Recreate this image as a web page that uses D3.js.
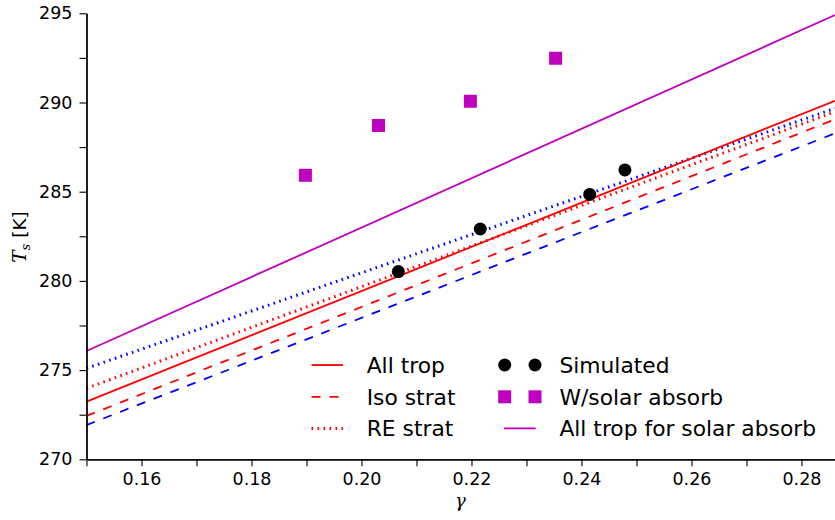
<!DOCTYPE html>
<html>
<head>
<meta charset="utf-8">
<script src="https://cdn.jsdelivr.net/npm/d3@7"></script>
<style>
  html, body { margin: 0; padding: 0; background: #fff; }
  svg { display: block; }
  text { font-family: "DejaVu Sans", sans-serif; fill: #000; }
</style>
</head>
<body>
<svg id="chart" width="835" height="520"></svg>
<script>
// ---- data ----
const xDomain = [0.15, 0.2861];
const yDomain = [270, 295];
const xMajorTicks = [0.16, 0.18, 0.20, 0.22, 0.24, 0.26, 0.28];
const xMinorTicks = [0.15, 0.17, 0.19, 0.21, 0.23, 0.25, 0.27];
const yMajorTicks = [270, 275, 280, 285, 290, 295];
const yMinorTicks = [272.5, 277.5, 282.5, 287.5, 292.5];

// theory lines: T_s at the two ends of the gamma range
const lineGamma = [0.15, 0.2861];
const allTrop = [273.23, 290.10];
const isoStratRed = [272.43, 289.06];
const reStratRed = [273.98, 289.48];
const isoStratBlue = [271.92, 288.27];
const reStratBlue = [275.10, 289.67];
const allTropSolar = [276.07, 294.90];

// simulated points
const simGamma = [0.2067, 0.2216, 0.2415, 0.2479];
const simTs = [280.52, 282.91, 284.85, 286.22];
// with solar absorption
const solGamma = [0.1898, 0.2031, 0.2198, 0.2353];
const solTs = [285.92, 288.71, 290.07, 292.48];

const legendLeft = ["All trop", "Iso strat", "RE strat"];
const legendRight = ["Simulated", "W/solar absorb", "All trop for solar absorb"];

// ---- drawing ----
const svg = d3.select("#chart");
const x = d3.scaleLinear().domain(xDomain).range([86.5, 835]);
const y = d3.scaleLinear().domain(yDomain).range([459.3, 13.3]);

const MAG = "#bf00bf";
const lineStyles = [
  {vals: allTropSolar, color: MAG, width: 1.8, dash: null},
  {vals: isoStratBlue, color: "#0000ff", width: 1.8, dash: "9,9"},
  {vals: reStratBlue, color: "#0000ff", width: 3, dash: "1.6,4.4"},
  {vals: isoStratRed, color: "#ff0000", width: 1.8, dash: "9,9"},
  {vals: reStratRed, color: "#ff0000", width: 3, dash: "1.6,4.4"},
  {vals: allTrop, color: "#ff0000", width: 1.8, dash: null}
];
const lineGen = d3.line().x(d => x(d[0])).y(d => y(d[1]));
const plot = svg.append("g");
lineStyles.forEach(s => {
  plot.append("path")
    .attr("d", lineGen(lineGamma.map((g, i) => [g, s.vals[i]])))
    .attr("fill", "none")
    .attr("stroke", s.color)
    .attr("stroke-width", s.width)
    .attr("stroke-dasharray", s.dash)
    .attr("stroke-linecap", "butt");
});

// markers
plot.selectAll("rect.sol").data(solGamma.map((g, i) => [g, solTs[i]]))
  .enter().append("rect")
  .attr("x", d => x(d[0]) - 6.5).attr("y", d => y(d[1]) - 6.5)
  .attr("width", 13).attr("height", 13).attr("fill", MAG);
plot.selectAll("circle.sim").data(simGamma.map((g, i) => [g, simTs[i]]))
  .enter().append("circle")
  .attr("cx", d => x(d[0])).attr("cy", d => y(d[1]))
  .attr("r", 6.5).attr("fill", "#000");

// axes
function styleAxis(g) {
  g.select(".domain").attr("stroke", "#000").attr("stroke-width", 1.3);
  g.selectAll(".tick line").attr("stroke", "#000").attr("stroke-width", 1.1);
  g.selectAll(".tick text").style("font-family", "DejaVu Sans").style("font-size", "17.5px").attr("fill", "#000");
}
const xAxisMinor = svg.append("g").attr("transform", "translate(0,459.3)")
  .call(d3.axisBottom(x).tickValues(xMinorTicks).tickSize(7).tickSizeOuter(0).tickFormat(""));
styleAxis(xAxisMinor);
const xAxis = svg.append("g").attr("transform", "translate(0,459.3)")
  .call(d3.axisBottom(x).tickValues(xMajorTicks).tickSize(7).tickSizeOuter(0).tickPadding(6.5)
    .tickFormat(d3.format(".2f")));
styleAxis(xAxis);

const yAxisMinor = svg.append("g").attr("transform", "translate(86.5,0)")
  .call(d3.axisLeft(y).tickValues(yMinorTicks).tickSize(7).tickSizeOuter(0).tickFormat(""));
styleAxis(yAxisMinor);
const yAxis = svg.append("g").attr("transform", "translate(86.5,0)")
  .call(d3.axisLeft(y).tickValues(yMajorTicks).tickSize(7).tickSizeOuter(0).tickPadding(7)
    .tickFormat(d3.format("d")));
styleAxis(yAxis);

// axis labels
svg.append("text")
  .attr("x", 460.5).attr("y", 507)
  .attr("text-anchor", "middle")
  .style("font-family", "DejaVu Serif").style("font-style", "italic").style("font-size", "18px")
  .text("γ");

const yl = svg.append("text")
  .attr("transform", "translate(26,237) rotate(-90)")
  .attr("text-anchor", "middle")
  .style("font-size", "18.5px");
yl.append("tspan").style("font-family", "DejaVu Serif").style("font-style", "italic").text("T");
yl.append("tspan").style("font-family", "DejaVu Serif").style("font-style", "italic")
  .style("font-size", "13px").attr("dy", 4).text("s");
yl.append("tspan").attr("dy", -4).text("\u00a0[K]");

// legend
const rowY = [365, 396.8, 428.4];
const leg = svg.append("g");
const leftStyles = [lineStyles[5], lineStyles[3], lineStyles[4]];
legendLeft.forEach((t, i) => {
  const s = leftStyles[i];
  leg.append("line")
    .attr("x1", 311.5).attr("x2", 343).attr("y1", rowY[i]).attr("y2", rowY[i])
    .attr("stroke", s.color).attr("stroke-width", s.width)
    .attr("stroke-dasharray", s.dash);
  leg.append("text").attr("x", 366.7).attr("y", rowY[i] + 8).style("font-size", "21.8px").text(t);
});
[504.7, 535].forEach(cx => {
  leg.append("circle").attr("cx", cx).attr("cy", rowY[0]).attr("r", 6.5).attr("fill", "#000");
  leg.append("rect").attr("x", cx - 6.5).attr("y", rowY[1] - 6.5).attr("width", 13).attr("height", 13).attr("fill", MAG);
});
leg.append("line").attr("x1", 504).attr("x2", 535.7).attr("y1", rowY[2]).attr("y2", rowY[2])
  .attr("stroke", MAG).attr("stroke-width", 1.8);
legendRight.forEach((t, i) => {
  leg.append("text").attr("x", 559.4).attr("y", rowY[i] + 8).style("font-size", "21.8px").text(t);
});
</script>
</body>
</html>
